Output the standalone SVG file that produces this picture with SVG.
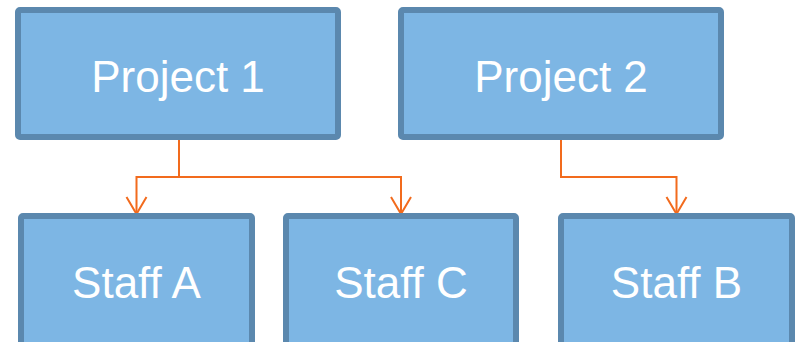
<svg xmlns="http://www.w3.org/2000/svg" width="798" height="342" viewBox="0 0 798 342">
  <style>
    .box { fill: #7DB6E4; stroke: #5B88AE; stroke-width: 6; }
    .lbl { fill: #FFFFFF; font-family: "Liberation Sans", Arial, sans-serif; font-size: 44px; text-anchor: middle; }
    .conn { fill: none; stroke: #F26B1D; stroke-width: 2; }
  </style>
  <defs>
    <marker id="arr" markerUnits="userSpaceOnUse" markerWidth="24" markerHeight="24" viewBox="-20 -12 24 24" refX="0" refY="0" orient="auto" overflow="visible">
      <path d="M-17,-10 L0,0 L-17,10" fill="none" stroke="#F26B1D" stroke-width="2"/>
    </marker>
  </defs>
  <rect x="0" y="0" width="798" height="342" fill="#FFFFFF"/>
  <g id="connectors">
    <path class="conn" d="M179,140 V177 H136.5 V214" marker-end="url(#arr)"/>
    <path class="conn" d="M179,177 H401 V214" marker-end="url(#arr)"/>
    <path class="conn" d="M561,140 V177 H676.5 V214" marker-end="url(#arr)"/>
  </g>
  <g id="project1">
    <rect class="box" x="18" y="10" width="320" height="127" rx="2"/>
    <text class="lbl" x="178" y="92">Project 1</text>
  </g>
  <g id="project2">
    <rect class="box" x="401" y="10" width="320" height="127" rx="2"/>
    <text class="lbl" x="561" y="92">Project 2</text>
  </g>
  <g id="staffA">
    <rect class="box" x="21" y="216" width="231" height="140" rx="2"/>
    <text class="lbl" x="136.5" y="298">Staff A</text>
  </g>
  <g id="staffC">
    <rect class="box" x="286" y="216" width="230" height="140" rx="2"/>
    <text class="lbl" x="401" y="298">Staff C</text>
  </g>
  <g id="staffB">
    <rect class="box" x="561" y="216" width="231" height="140" rx="2"/>
    <text class="lbl" x="676.5" y="298">Staff B</text>
  </g>
</svg>
